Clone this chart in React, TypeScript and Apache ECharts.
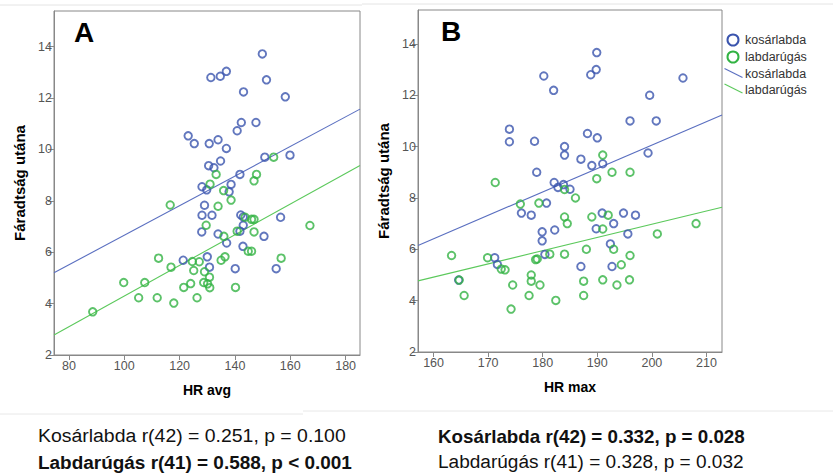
import React, { useEffect, useRef } from "react";
import * as echarts from "echarts";

// Panel A: HR avg vs fatigue
const avgKosarlabda: [number, number][] = [
  [149.9, 13.72], [131.3, 12.8], [134.7, 12.85], [136.9, 13.04], [151.4, 12.71], [143.1, 12.24],
  [158.2, 12.05], [142.3, 11.05], [147.6, 11.05], [140.8, 10.73], [123.1, 10.53], [125.3, 10.23],
  [130.7, 10.23], [133.9, 10.38], [136.9, 10.04], [150.8, 9.7], [159.9, 9.78], [130.5, 9.37],
  [132.4, 9.29], [134.8, 9.55], [141.8, 9.03], [128.1, 8.55], [138.6, 8.64], [129.8, 8.43],
  [137.9, 8.35], [129.0, 7.83], [128.1, 7.44], [131.7, 7.44], [142.1, 7.45], [143.0, 7.37],
  [156.5, 7.36], [143.0, 7.05], [128.0, 6.79], [133.9, 6.71], [141.8, 6.82], [150.5, 6.62],
  [137.0, 6.36], [142.9, 6.23], [121.3, 5.69], [130.0, 5.82], [130.8, 5.42], [140.1, 5.36],
  [154.9, 5.36],
];
const avgLabdarugas: [number, number][] = [
  [131.0, 8.65], [146.9, 8.78], [135.9, 8.4], [116.6, 7.84], [133.9, 7.79], [138.6, 8.03],
  [143.7, 7.36], [146.0, 7.28], [146.9, 7.28], [129.6, 7.05], [140.8, 6.82], [146.9, 6.79],
  [136.0, 6.62], [167.1, 7.04], [144.8, 6.04], [146.0, 6.04], [112.4, 5.77], [116.9, 5.42],
  [124.6, 5.64], [127.1, 5.63], [125.1, 5.29], [129.0, 5.24], [130.8, 5.03], [135.0, 5.69],
  [136.4, 5.82], [156.7, 5.77], [99.8, 4.82], [107.4, 4.82], [124.0, 4.78], [121.5, 4.63],
  [128.7, 4.82], [130.1, 4.77], [130.9, 4.62], [140.2, 4.63], [105.2, 4.23], [111.9, 4.23],
  [126.3, 4.23], [117.9, 4.02], [88.6, 3.68], [133.2, 9.03], [147.8, 9.03], [154.0, 9.7],
];
const avgFitKosarlabda: [number, number][] = [[74.6, 5.2], [185.2, 11.57]];
const avgFitLabdarugas: [number, number][] = [[74.6, 2.78], [185.2, 9.38]];

// Panel B: HR max vs fatigue
const maxKosarlabda: [number, number][] = [
  [189.9, 13.66], [189.8, 13.0], [188.8, 12.8], [180.2, 12.75], [182.0, 12.19], [205.7, 12.67],
  [199.6, 12.0], [196.0, 11.0], [200.8, 11.0], [173.9, 10.68], [173.9, 10.19], [178.5, 10.21],
  [188.2, 10.51], [190.0, 10.34], [184.0, 10.0], [184.0, 9.67], [187.0, 9.51], [189.0, 9.26],
  [191.0, 9.33], [199.3, 9.75], [178.9, 9.0], [182.1, 8.6], [182.8, 8.41], [183.8, 8.52],
  [185.0, 8.34], [180.7, 7.8], [176.1, 7.41], [177.9, 7.33], [190.9, 7.41], [194.8, 7.41],
  [197.0, 7.33], [193.0, 7.0], [179.9, 6.68], [182.2, 6.75], [179.9, 6.33], [189.8, 6.8],
  [195.6, 6.6], [192.4, 6.21], [180.4, 5.8], [171.2, 5.67], [171.7, 5.41], [187.0, 5.33],
  [192.7, 5.33], [164.6, 4.8],
];
const maxLabdarugas: [number, number][] = [
  [191.0, 9.67], [171.3, 8.6], [192.7, 9.0], [196.0, 9.0], [189.9, 8.75], [184.0, 8.33],
  [186.0, 8.0], [175.9, 7.76], [179.3, 7.8], [184.0, 7.26], [184.5, 7.0], [189.0, 7.26],
  [192.0, 7.33], [191.0, 6.79], [208.1, 7.0], [201.0, 6.6], [188.0, 6.0], [193.0, 6.0],
  [196.0, 5.76], [184.0, 5.81], [181.3, 5.81], [178.7, 5.6], [179.0, 5.62], [169.9, 5.67],
  [172.4, 5.23], [173.1, 5.2], [194.4, 5.4], [177.9, 5.0], [177.9, 4.76], [174.5, 4.61],
  [179.5, 4.61], [187.5, 4.76], [191.0, 4.81], [193.6, 4.61], [195.9, 4.81], [177.5, 4.2],
  [182.4, 4.01], [187.5, 4.2], [174.2, 3.67], [163.3, 5.76], [164.7, 4.8], [165.6, 4.2],
];
const maxFitKosarlabda: [number, number][] = [[157.15, 6.15], [212.85, 11.23]];
const maxFitLabdarugas: [number, number][] = [[157.15, 4.77], [212.85, 7.64]];

const xTicksA = [80, 100, 120, 140, 160, 180];
const xTicksB = [160, 170, 180, 190, 200, 210];
const yTicks = [2, 4, 6, 8, 10, 12, 14];

const legendLabels = ["kosárlabda", "labdarúgás", "kosárlabda", "labdarúgás"];
const statsLeft = ["Kosárlabda r(42) = 0.251, p = 0.100", "Labdarúgás r(41) = 0.588, p < 0.001"];
const statsRight = ["Kosárlabda r(42) = 0.332, p = 0.028", "Labdarúgás r(41) = 0.328, p = 0.032"];

const BLUE = "#3B55AE";
const GREEN = "#33B344";
const BLUE_LINE = "#5A6FC0";
const GREEN_LINE = "#5CC95C";
const FONT = "Liberation Sans, Arial, sans-serif";
const NOTE_FONT = "'Liberation Sans', Arial, sans-serif";

function xAxisCfg(gridIndex: number, min: number, max: number, ticks: number[], name: string) {
  return {
    type: "value", gridIndex, min, max, name, nameLocation: "middle", nameGap: 28,
    nameTextStyle: { fontFamily: FONT, fontWeight: "bold", fontSize: 14, color: "#000" },
    axisLine: { show: true, lineStyle: { color: "#888", width: 1 } },
    axisTick: { show: true, length: 5, customValues: ticks, lineStyle: { color: "#888" } },
    axisLabel: { customValues: ticks, color: "#555", fontSize: 12.5, fontFamily: FONT, margin: 4 },
    splitLine: { show: false },
  };
}
function yAxisCfg(gridIndex: number, min: number, max: number) {
  return {
    type: "value", gridIndex, min, max, name: "Fáradtság utána", nameLocation: "middle", nameGap: 27,
    nameTextStyle: { fontFamily: FONT, fontWeight: "bold", fontSize: 15, color: "#000" },
    axisLine: { show: true, lineStyle: { color: "#888", width: 1 } },
    axisTick: { show: true, length: 6, customValues: yTicks, lineStyle: { color: "#888" } },
    axisLabel: { customValues: yTicks, color: "#555", fontSize: 12.5, fontFamily: FONT, margin: 2 },
    splitLine: { show: false },
  };
}
function scatter(name: string, idx: number, data: [number, number][], color: string) {
  return {
    type: "scatter", name, xAxisIndex: idx, yAxisIndex: idx, data, symbol: "circle", symbolSize: 7.5,
    itemStyle: { color: "rgba(0,0,0,0)", borderColor: color, borderWidth: 1.9 },
    z: 3,
  };
}
function fit(name: string, idx: number, data: [number, number][], color: string) {
  return {
    type: "line", name, xAxisIndex: idx, yAxisIndex: idx, data, showSymbol: false, symbol: "none",
    lineStyle: { color, width: 1.1 }, z: 2,
  };
}

function measure(text: string, font: string): number {
  const c = document.createElement("canvas").getContext("2d");
  if (!c) return 0;
  c.font = font;
  return c.measureText(text).width;
}

export default function App() {
  const ref = useRef<HTMLDivElement>(null);
  useEffect(() => {
    if (!ref.current) return;
    const chart = echarts.init(ref.current, undefined, { renderer: "svg" });
    const legendItems: any[] = [];
    const lx = 733, ly = [40, 57, 73.5, 90];
    legendItems.push({ type: "circle", shape: { cx: lx, cy: ly[0], r: 5.5 }, style: { fill: "none", stroke: BLUE, lineWidth: 2 } });
    legendItems.push({ type: "circle", shape: { cx: lx, cy: ly[1], r: 5.5 }, style: { fill: "none", stroke: GREEN, lineWidth: 2 } });
    legendItems.push({ type: "line", shape: { x1: 724.5, y1: ly[2] - 5, x2: 742.5, y2: ly[2] + 4 }, style: { stroke: BLUE_LINE, lineWidth: 1.1 } });
    legendItems.push({ type: "line", shape: { x1: 724.5, y1: ly[3] - 6, x2: 742.5, y2: ly[3] + 3 }, style: { stroke: GREEN_LINE, lineWidth: 1.1 } });
    legendLabels.forEach((t, i) => {
      legendItems.push({ type: "text", x: 745, y: ly[i], style: { text: t, fill: "#333", font: `12.5px ${FONT}`, textVerticalAlign: "middle", textAlign: "left" } });
    });
    const notes: any[] = [];
    const targetLeft = [308, 314];
    const targetRight = [307, 306];
    const addNote = (t: string, x: number, y: number, bold: boolean, target: number) => {
      const font = `${bold ? "bold " : ""}19px ${NOTE_FONT}`;
      const w = measure(t, font);
      const sx = w > 0 ? target / w : 1;
      notes.push({ type: "text", x, y, scaleX: sx, style: { text: t, fill: "#111", font, textVerticalAlign: "middle", textAlign: "left" } });
    };
    statsLeft.forEach((t, i) => addNote(t, 38, 436 + i * 26, i === 1, targetLeft[i]));
    statsRight.forEach((t, i) => addNote(t, 438, 436 + i * 26, i === 0, targetRight[i]));
    chart.setOption({
      animation: false,
      backgroundColor: "#fff",
      textStyle: { fontFamily: FONT },
      grid: [
        { left: 54, top: 11, width: 306, height: 344, show: true, borderColor: "#888", borderWidth: 1, backgroundColor: "#fff" },
        { left: 418, top: 10, width: 304, height: 342, show: true, borderColor: "#888", borderWidth: 1, backgroundColor: "#fff" },
      ],
      xAxis: [
        xAxisCfg(0, 74.6, 185.2, xTicksA, "HR avg"),
        xAxisCfg(1, 157.15, 212.85, xTicksB, "HR max"),
      ],
      yAxis: [yAxisCfg(0, 2, 15.39), yAxisCfg(1, 2, 15.32)],
      series: [
        fit("kosárlabda", 0, avgFitKosarlabda, BLUE_LINE),
        fit("labdarúgás", 0, avgFitLabdarugas, GREEN_LINE),
        scatter("kosárlabda", 0, avgKosarlabda, BLUE),
        scatter("labdarúgás", 0, avgLabdarugas, GREEN),
        fit("kosárlabda", 1, maxFitKosarlabda, BLUE_LINE),
        fit("labdarúgás", 1, maxFitLabdarugas, GREEN_LINE),
        scatter("kosárlabda", 1, maxKosarlabda, BLUE),
        scatter("labdarúgás", 1, maxLabdarugas, GREEN),
      ],
      graphic: [
        { type: "line", shape: { x1: 0, y1: 5, x2: 362, y2: 5 }, style: { stroke: "#e4e4e4", lineWidth: 1 }, z: 0 },
        { type: "line", shape: { x1: 362, y1: 4, x2: 833, y2: 4 }, style: { stroke: "#e4e4e4", lineWidth: 1 }, z: 0 },
        { type: "line", shape: { x1: 0, y1: 414, x2: 303, y2: 414 }, style: { stroke: "#e8e8e8", lineWidth: 1 }, z: 0 },
        { type: "line", shape: { x1: 303, y1: 411, x2: 833, y2: 411 }, style: { stroke: "#e8e8e8", lineWidth: 1 }, z: 0 },
        { type: "text", x: 84, y: 32, style: { text: "A", fill: "#000", font: `bold 28px ${FONT}`, textAlign: "center", textVerticalAlign: "middle" }, z: 10 },
        { type: "text", x: 451, y: 31, style: { text: "B", fill: "#000", font: `bold 28px ${FONT}`, textAlign: "center", textVerticalAlign: "middle" }, z: 10 },
        ...legendItems,
        ...notes,
      ],
    });
    return () => chart.dispose();
  }, []);
  return <div ref={ref} style={{ position: "fixed", left: 0, top: 0, width: 833, height: 475 }} />;
}
